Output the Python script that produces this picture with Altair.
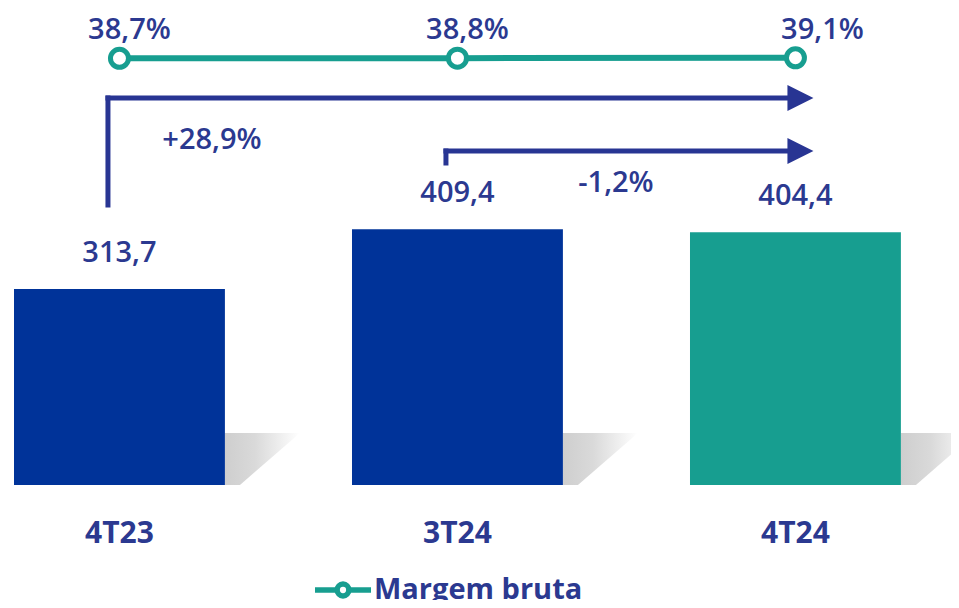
import altair as alt
import pandas as pd

# ---------------- data ----------------
categories = ["4T23", "3T24", "4T24"]
revenue = [313.7, 409.4, 404.4]
revenue_labels = ["313,7", "409,4", "404,4"]
margin = [38.7, 38.8, 39.1]
margin_labels = ["38,7%", "38,8%", "39,1%"]
bar_colors = ["#003399", "#003399", "#179E90"]
growth_labels = ["+28,9%", "-1,2%"]
growth_from = ["4T23", "3T24"]
growth_to = ["4T24", "4T24"]
series_name = "Margem bruta"

# ---------------- styles ----------------
TEXT = "#2B3990"
ARROW = "#283593"
TEAL = "#179E90"
FONT = "Open Sans"

# annotation layout (in revenue units)
arrow_level = [619.2, 534.4]
arrow_base = [448.0, 515.2]
growth_label_y = [552.0, 483.0]
growth_label_dx = [92.5, 158.5]

bars_df = pd.DataFrame({"cat": categories, "value": revenue, "label": revenue_labels})
margin_df = pd.DataFrame({"cat": categories, "margin": margin, "label": margin_labels,
                          "series": [series_name] * 3})

x_scale = alt.Scale(domain=categories, paddingInner=0.376, paddingOuter=0.083, align=0.107)
y_scale = alt.Scale(domain=[-184, 763.2])
m_scale = alt.Scale(domain=[-400, 79.4])

X = alt.X("cat:N", scale=x_scale, axis=None)
Y = alt.Y("value:Q", scale=y_scale, axis=None)


def ydat(v):
    return alt.YDatum(v, type="quantitative", scale=y_scale, axis=None)


def xdat(c):
    return alt.XDatum(c, type="nominal", scale=x_scale, axis=None)


shadow = alt.Chart(bars_df).mark_point(
    shape="M-1,1L-1,-0.3L0.875,-0.3L-0.625,1Z", size=6400, filled=True, opacity=0.8,
    strokeWidth=0, xOffset=145.5, yOffset=-40,
    fill=alt.Gradient(gradient="linear",
                      stops=[alt.GradientStop(color="#c2c2c2", offset=0),
                             alt.GradientStop(color="#d0d0d0", offset=0.4),
                             alt.GradientStop(color="#ffffff", offset=1)],
                      x1=0, x2=1, y1=0, y2=0),
).encode(x=X, y=ydat(0))

bars = alt.Chart(bars_df).mark_bar().encode(
    x=X, y=Y,
    fill=alt.Fill("cat:N", scale=alt.Scale(domain=categories, range=bar_colors), legend=None),
)

bar_labels = alt.Chart(bars_df).mark_text(
    font=FONT, fontSize=29, fontWeight=600, color=TEXT, baseline="alphabetic", dy=-27
).encode(x=X, y=Y, text="label:N")

cat_labels = alt.Chart(bars_df).mark_text(
    font=FONT, fontSize=30, fontWeight="bold", color=TEXT, baseline="alphabetic", dy=58
).encode(x=X, y=ydat(0), text="cat:N")

arrow_layers = []
for i in range(len(growth_labels)):
    one = pd.DataFrame({"g": [growth_labels[i]]})
    vert = alt.Chart(one).mark_rule(color=ARROW, strokeWidth=5, strokeCap="square",
                                     xOffset=-11.5).encode(
        x=xdat(growth_from[i]), y=ydat(arrow_base[i]), y2=alt.Y2Datum(arrow_level[i]))
    hor = alt.Chart(one).mark_rule(color=ARROW, strokeWidth=5, strokeCap="square",
                                    xOffset=-11.5, x2Offset=-9).encode(
        x=xdat(growth_from[i]), x2=alt.X2Datum(growth_to[i]), y=ydat(arrow_level[i]))
    head = alt.Chart(one).mark_point(shape="M-1,-1L1,0L-1,1Z", size=676, filled=True,
                                      color=ARROW, opacity=1, strokeWidth=0,
                                      xOffset=5).encode(
        x=xdat(growth_to[i]), y=ydat(arrow_level[i]))
    lab = alt.Chart(one).mark_text(font=FONT, fontSize=29, fontWeight=600, color=TEXT,
                                    baseline="middle", dx=growth_label_dx[i]).encode(
        x=xdat(growth_from[i]), y=ydat(growth_label_y[i]), text="g:N")
    arrow_layers += [vert, hor, head, lab]

M_Y = alt.Y("margin:Q", scale=m_scale, axis=None)

line = alt.Chart(margin_df).mark_line(strokeWidth=6).encode(
    x=X, y=M_Y,
    stroke=alt.Stroke("series:N", scale=alt.Scale(domain=[series_name], range=[TEAL]),
                      legend=alt.Legend(
                          title=None, orient="none", legendX=318, legendY=565,
                          symbolType="M-2,0L-0.42,0M0.42,0L2,0M-0.42,0A0.42,0.42 0 1,1 0.42,0A0.42,0.42 0 1,1 -0.42,0Z",
                          symbolSize=784, symbolStrokeWidth=5.5, symbolFillColor="white",
                          symbolStrokeColor=TEAL, labelFont=FONT, labelFontSize=29,
                          labelFontWeight="bold", labelColor=TEXT, labelOffset=14,
                          labelLimit=0, padding=0)),
)

points = alt.Chart(margin_df).mark_point(
    shape="circle", size=324, filled=True, fill="white", stroke=TEAL, strokeWidth=5, opacity=1
).encode(x=X, y=M_Y)

mlab_a = alt.Chart(margin_df).transform_filter(alt.datum.cat != "4T24").mark_text(
    font=FONT, fontSize=29, fontWeight=600, color=TEXT, baseline="alphabetic", dy=-19, dx=10
).encode(x=X, y=M_Y, text="label:N")
mlab_b = alt.Chart(margin_df).transform_filter(alt.datum.cat == "4T24").mark_text(
    font=FONT, fontSize=29, fontWeight=600, color=TEXT, baseline="alphabetic", dy=-19, dx=27
).encode(x=X, y=M_Y, text="label:N")

bar_layer = alt.layer(shadow, bars, bar_labels, cat_labels, *arrow_layers)
margin_layer = alt.layer(line, points, mlab_a, mlab_b)

chart = alt.layer(bar_layer, margin_layer).resolve_scale(y="independent").properties(
    width=943, height=592, padding=0,
    autosize=alt.AutoSizeParams(type="none"),
    background="white",
).configure_view(stroke=None)

chart.save("out.html", embed_options={"renderer": "svg", "actions": False})
